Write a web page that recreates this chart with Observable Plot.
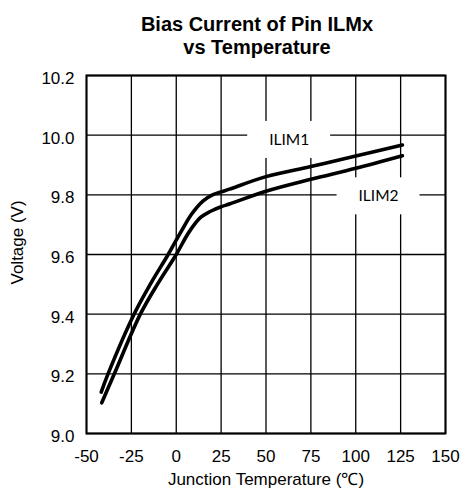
<!DOCTYPE html>
<html><head><meta charset="utf-8">
<script src="https://cdn.jsdelivr.net/npm/d3@7"></script>
<script src="https://cdn.jsdelivr.net/npm/@observablehq/plot@0.6"></script>
<style>body{margin:0;background:#fff}</style>
</head><body><div id="chart"></div>
<script>
// Data
const ilim1Temp = [-41.8, -38, -23.5, -14, -4.5, 3, 8.5, 15, 20.2, 25, 29.6, 50, 75, 100, 126];
const ilim1Volt = [9.139, 9.2, 9.4, 9.505, 9.6, 9.68, 9.735, 9.78, 9.80, 9.81, 9.819, 9.861, 9.895, 9.93, 9.967];
const ilim2Temp = [-41.5, -34.5, -20, -10, 0, 7.1, 13.7, 19.2, 25, 30, 50, 75, 100, 126];
const ilim2Volt = [9.103, 9.2, 9.4, 9.505, 9.6, 9.675, 9.725, 9.745, 9.76, 9.77, 9.812, 9.852, 9.889, 9.931];
const xTicks = [-50, -25, 0, 25, 50, 75, 100, 125, 150];
const yTicks = [9.0, 9.2, 9.4, 9.6, 9.8, 10.0, 10.2];
const labelNames = ["ILIM1", "ILIM2"];
const labelTemp = [62.9, 112.7];
const labelVolt = [9.984, 9.795];

const rows = [
  ...ilim1Temp.map((t, i) => ({series: "ILIM1", t, v: ilim1Volt[i]})),
  ...ilim2Temp.map((t, i) => ({series: "ILIM2", t, v: ilim2Volt[i]}))
];
const labels = labelNames.map((name, i) => ({name, t: labelTemp[i], v: labelVolt[i]}));
const boxHalfW = 23.1, boxHalfH = 0.062;

const chart = Plot.plot({
  width: 461, height: 489,
  marginLeft: 86, marginRight: 16, marginTop: 75, marginBottom: 56,
  style: {fontFamily: "'Liberation Sans', Arial, sans-serif", fontSize: "17px", color: "black", background: "white"},
  x: {domain: [-50, 150]},
  y: {domain: [9.0, 10.2]},
  marks: [
    Plot.gridX(xTicks, {stroke: "black", strokeOpacity: 1, strokeWidth: 1.3}),
    Plot.gridY(yTicks, {stroke: "black", strokeOpacity: 1, strokeWidth: 1.3}),
    Plot.rect(labels, {x1: d => d.t - boxHalfW, x2: d => d.t + boxHalfW, y1: d => d.v - boxHalfH, y2: d => d.v + boxHalfH, fill: "white"}),
    Plot.frame({stroke: "black", strokeWidth: 2}),
    Plot.axisX(xTicks, {tickSize: 0, tickPadding: 16, label: null, tickFormat: d => String(d), fontSize: 17}),
    Plot.axisY(yTicks, {tickSize: 0, tickPadding: 12, label: null, tickFormat: d => d.toFixed(1), dy: 3, fontSize: 17}),
    Plot.line(rows, {x: "t", y: "v", z: "series", stroke: "black", strokeWidth: 3.6, curve: "catmull-rom"}),
    Plot.text(labels, {x: "t", y: "v", text: "name", fontFamily: "Lato, 'Open Sans', sans-serif", fontSize: 15.5, fill: "black"}),
    Plot.text(["Junction Temperature (℃)"], {frameAnchor: "bottom", dy: 51, fontSize: 17}),
    Plot.text(["Voltage (V)"], {frameAnchor: "left", rotate: -90, dx: -69, dy: 30, fontSize: 17}),
    Plot.text(["Bias Current of Pin ILMx"], {frameAnchor: "top", dx: -9, dy: -58.5, fontWeight: "bold", fontSize: 20}),
    Plot.text(["vs Temperature"], {frameAnchor: "top", dx: -9, dy: -36, fontWeight: "bold", fontSize: 20})
  ]
});
document.getElementById("chart").append(chart);
</script>
</body></html>
